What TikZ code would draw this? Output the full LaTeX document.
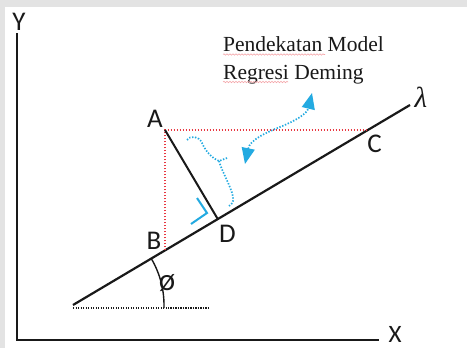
\documentclass[tikz,border=0pt]{standalone}
\usepackage{fontspec}
\setmainfont{Liberation Serif}
\setsansfont{Carlito}
\usetikzlibrary{arrows.meta,decorations.pathmorphing}
\definecolor{redd}{RGB}{232,55,65}
\definecolor{bluu}{RGB}{35,170,225}
\definecolor{ink}{RGB}{25,25,25}
\begin{document}
\begin{tikzpicture}[x=1pt,y=-1pt,
  lab/.style={font=\sffamily\fontsize{27}{27}\selectfont, inner sep=0pt, text=ink},
  heavy/.style={draw=ink, line width=2pt},
  reddot/.style={draw=redd, line width=1.9pt, dash pattern=on 1.5pt off 1.5pt},
  bluedot/.style={draw=bluu, line width=1.7pt, dash pattern=on 1.4pt off 1.6pt},
  blackdot/.style={draw=ink, line width=1.3pt, dash pattern=on 1.2pt off 1.3pt},
  squig/.style={draw=redd!45, line width=0.6pt, decorate, decoration={snake, amplitude=0.7pt, segment length=3pt}},
  ttl/.style={font=\fontsize{21.5}{26}\selectfont, inner sep=0pt, anchor=base west, text=ink}]
\fill[gray!22] (0,0) rectangle (467,348);
\fill[white] (5,7) rectangle (467,348);
\useasboundingbox (0,0) rectangle (467,348);

% axes
\node[lab] (Y) at (19,21.5) {Y};
\node[lab, font=\sffamily\fontsize{25}{25}\selectfont] (X) at (395,334.5) {X};
\coordinate (Ytop) at (17,33);
\coordinate (O) at (17,340);
\coordinate (Xend) at (379,340);
\draw[heavy] (Ytop) -- (O) -- (Xend);

% main line
\coordinate (L0) at (73,305);
\coordinate (L1) at (410,105);
\draw[heavy, line width=2.2pt] (L0) -- (L1);
\node[font=\fontsize{29}{29}\selectfont\itshape, inner sep=0pt, text=ink] (lam) at (421,97) {λ};

% points
\coordinate (A) at (165,130);
\coordinate (B) at (165,250.4);
\coordinate (C) at (367.9,130);
\coordinate (D) at (217.8,219.1);
\node[lab] (Alab) at (155,119) {A};
\node[lab] (Blab) at (154,241) {B};
\node[lab] (Clab) at (374.5,143.5) {C};
\node[lab] (Dlab) at (227.5,233.5) {D};

\draw[reddot] (B) -- (A) -- (C);
\draw[heavy] (A) -- (D);

% angle
\coordinate (H) at (210,308);
\coordinate (H0) at (73,308);
\draw[blackdot] (H0) -- (H);
\draw[draw=ink, line width=1.4pt] ([shift={(-31:91)}]L0) arc[start angle=-31, end angle=2, radius=91];
\node[font=\sffamily\fontsize{31}{31}\selectfont, inner sep=0pt, text=ink] (phi) at (167,283) {ø};

% right angle mark
\coordinate (R1) at (197,198);
\coordinate (R2) at (207,213);
\coordinate (R3) at (191,224);
\draw[draw=bluu, line width=2pt] (R1) -- (R2) -- (R3);

% brace
\coordinate (b0) at (187,140);
\coordinate (b1) at (219,161);
\coordinate (bt) at (227,158);
\coordinate (b2) at (229,206);
\draw[bluedot] (b0) .. controls (190,135) and (199,136) .. (202,143)
  .. controls (206,152) and (212,158) .. (b1) -- (bt);
\draw[bluedot] (b1) .. controls (222,172) and (231,186) .. (233,197)
  .. controls (234,202) and (232,204) .. (b2);

% double arrow
\coordinate (ar0) at (245,164);
\coordinate (ar1) at (312,93);
\draw[bluedot, {Triangle[length=16pt,width=13pt]}-{Triangle[length=16pt,width=13pt]}]
  (ar0) .. controls (250,140) and (265,133) .. (280,127)
  .. controls (295,121) and (307,114) .. (ar1);

% title
\node[ttl] (t1) at (223,52) {Pendekatan Model};
\node[ttl] (t2) at (223,79) {Regresi Deming};
\draw[squig] (223,54.5) -- (325,54.5);
\draw[squig] (223,82) -- (288,82);
\end{tikzpicture}
\end{document}
